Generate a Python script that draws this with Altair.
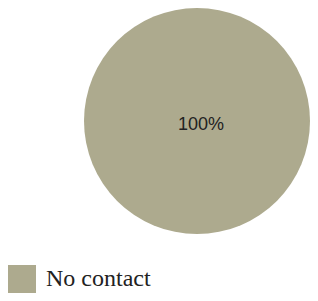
import altair as alt
import pandas as pd

categories = ["No contact"]
values = [100]
labels = ["100%"]
colors = ["#ADAA8E"]

df = pd.DataFrame({"category": categories, "value": values, "label": labels})

base = alt.Chart(df)

pie = base.mark_arc(outerRadius=113, stroke=None).encode(
    theta=alt.Theta("value:Q", stack=True),
    color=alt.Color(
        "category:N",
        scale=alt.Scale(domain=categories, range=colors),
        legend=alt.Legend(
            title=None,
            orient="none",
            legendX=0,
            legendY=257,
            padding=0,
            symbolType="square",
            symbolSize=784,
            symbolStrokeWidth=0,
            symbolOpacity=1,
            labelFont="Liberation Serif",
            labelFontSize=24,
            labelColor="#222222",
            labelOffset=10,
            labelLimit=300,
        ),
    ),
    x=alt.value(189),
    y=alt.value(113),
)

text = base.mark_text(
    font="Liberation Sans", fontSize=18, color="#222222", baseline="middle", align="center"
).encode(
    text="label:N",
    x=alt.value(193),
    y=alt.value(117),
)

chart = (
    alt.layer(pie, text)
    .properties(width=302, height=285, autosize=alt.AutoSizeParams(type="none"), padding=0)
    .configure_view(stroke=None)
)

chart.save("out.html", embed_options={"renderer": "svg", "actions": False})
